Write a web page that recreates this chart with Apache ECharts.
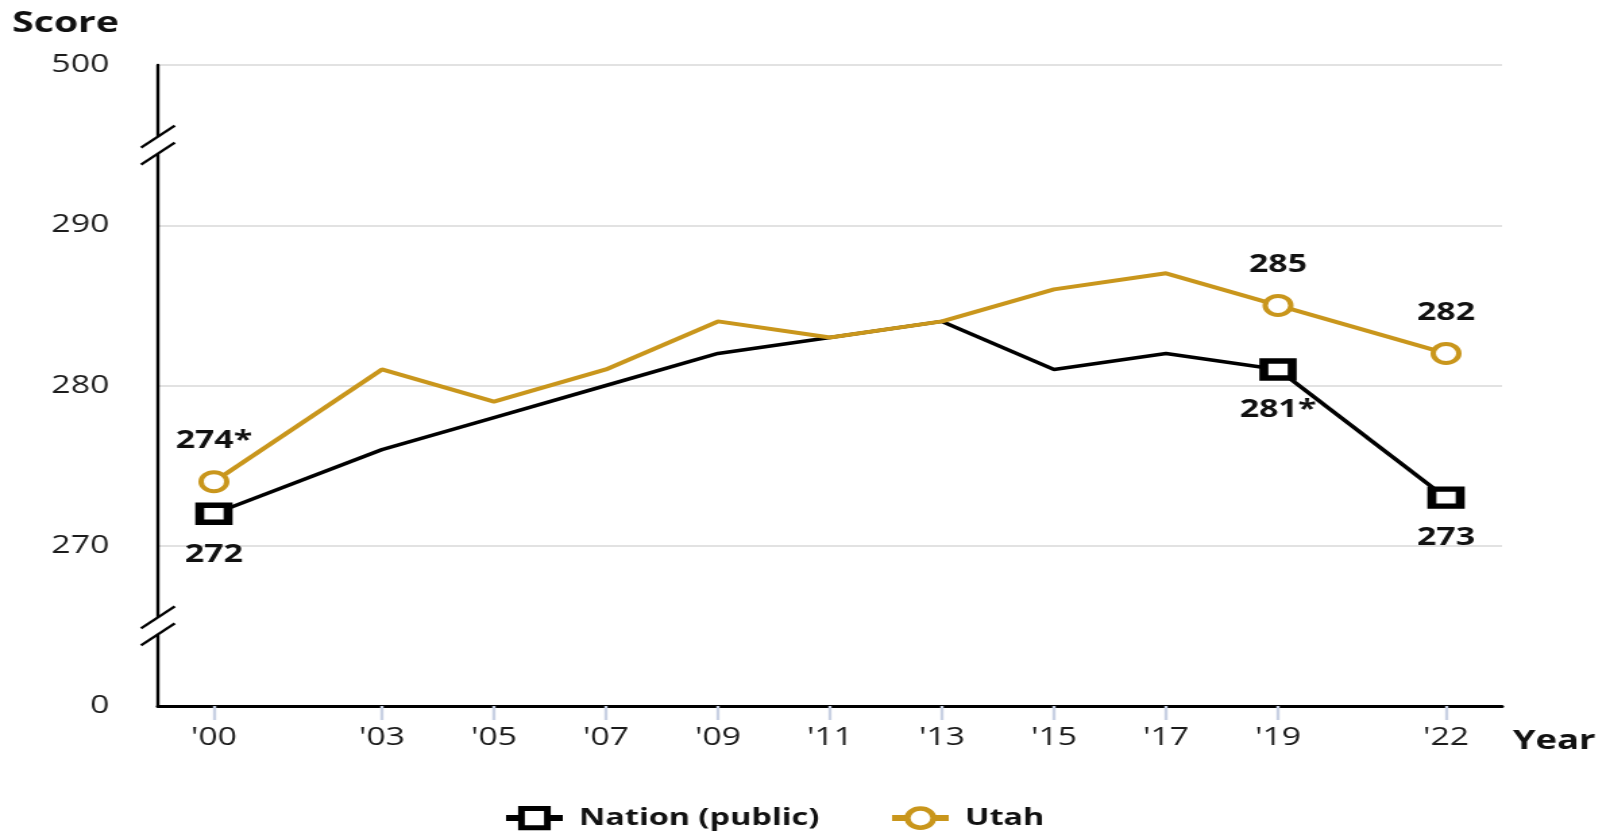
<!DOCTYPE html>
<html><head><meta charset="utf-8">
<script src="https://cdn.jsdelivr.net/npm/echarts@6/dist/echarts.min.js"></script>
<style>
html,body{margin:0;padding:0;background:#fff;overflow:hidden;}
#wrap{width:1610px;height:832px;overflow:hidden;}
#chart{width:1193px;height:832px;transform:scaleX(1.349539);transform-origin:0 0;}
</style></head><body>
<div id="wrap"><div id="chart"></div></div>
<script>
// ---- data ----
const years = [2000, 2003, 2005, 2007, 2009, 2011, 2013, 2015, 2017, 2019, 2022];
const nationScores = [272, 276, 278, 280, 282, 283, 284, 281, 282, 281, 273];
const utahScores = [274, 281, 279, 281, 284, 283, 284, 286, 287, 285, 282];
const markedYears = [2000, 2019, 2022];
const nationLabels = ['272', '281*', '273'];
const utahLabels = ['274*', '285', '282'];
// broken axis: 260 stands for 0 and 300 stands for 500
const yTickValues = [260, 270, 280, 290, 300];
const yTickLabels = ['0', '270', '280', '290', '500'];
const seriesNames = ['Nation (public)', 'Utah'];
const xAxisTitle = 'Year';
const yAxisTitle = 'Score';
const yearRange = [1999, 2023];
const breakValues = [295, 265];

const FONT = '"Open Sans", "Noto Sans", sans-serif';
const GOLD = '#C9961C';
const TEXT = '#1c1c1c';

function buildData(scores, labels, pos, dist) {
  return years.map((y, i) => {
    const k = markedYears.indexOf(y);
    if (k < 0) return { value: [y, scores[i]], symbol: 'none', label: { show: false } };
    return {
      value: [y, scores[i]],
      label: { show: true, position: pos, distance: dist, formatter: labels[k] }
    };
  });
}

const chart = echarts.init(document.getElementById('chart'));
const option = {
  animation: false,
  textStyle: { fontFamily: FONT },
  title: {
    text: yAxisTitle, left: 9, top: 9, padding: 0,
    textStyle: { fontFamily: FONT, fontSize: 29, fontWeight: 'bold', color: '#111' }
  },
  grid: { left: 117, right: 80, top: 65, bottom: 126, containLabel: false },
  legend: {
    left: 372, top: 806, padding: 0,
    itemWidth: 42, itemHeight: 24, itemGap: 51,
    lineStyle: { width: 6 },
    textStyle: { fontFamily: FONT, fontSize: 24, fontWeight: 'bold', color: '#111', padding: [0, 0, 0, 7] },
    data: [
      { name: seriesNames[0], itemStyle: { color: '#fff', borderColor: '#000', borderWidth: 5 } },
      { name: seriesNames[1], itemStyle: { color: '#fff', borderColor: GOLD, borderWidth: 4.5 } }
    ]
  },
  xAxis: {
    type: 'value', min: yearRange[0], max: yearRange[1],
    axisLine: { show: true, lineStyle: { color: '#000', width: 3 } },
    axisTick: { show: true, customValues: years, length: 14, lineStyle: { color: '#c9d1e3', width: 2.4 } },
    axisLabel: { customValues: years, margin: 19, fontFamily: FONT, fontSize: 25, color: TEXT,
      formatter: v => "'" + String(v).slice(2) },
    splitLine: { show: false }
  },
  yAxis: {
    type: 'value', min: yTickValues[0], max: yTickValues[yTickValues.length - 1], interval: 10,
    axisLine: { show: true, lineStyle: { color: '#000', width: 2.4 } },
    axisTick: { show: false },
    axisLabel: { margin: 36, fontFamily: FONT, fontSize: 25, color: TEXT,
      formatter: v => { const k = yTickValues.indexOf(v); return k < 0 ? '' : yTickLabels[k]; } },
    splitLine: { show: true, showMinLine: false, lineStyle: { color: '#e2e2e2', width: 2 } }
  },
  series: [
    {
      name: seriesNames[0], type: 'line', z: 2,
      symbol: 'rect', symbolSize: [21, 17], showSymbol: true,
      lineStyle: { color: '#000', width: 3.5 },
      itemStyle: { color: '#fff', borderColor: '#000', borderWidth: 6 },
      label: { fontFamily: FONT, fontSize: 25, fontWeight: 'bold', color: '#111' },
      emphasis: { disabled: true },
      data: buildData(nationScores, nationLabels, 'bottom', 17)
    },
    {
      name: seriesNames[1], type: 'line', z: 3,
      symbol: 'circle', symbolSize: 19, showSymbol: true,
      lineStyle: { color: GOLD, width: 4 },
      itemStyle: { color: '#fff', borderColor: GOLD, borderWidth: 4 },
      label: { fontFamily: FONT, fontSize: 25, fontWeight: 'bold', color: '#111' },
      emphasis: { disabled: true },
      data: buildData(utahScores, utahLabels, 'top', 17)
    }
  ]
};
chart.setOption(option);

// axis break marks and the x-axis title, placed through the chart's own scales
const graphics = [];
breakValues.forEach(v => {
  const p = chart.convertToPixel({ gridIndex: 0 }, [yearRange[0], v]);
  const ax = p[0], cy = p[1];
  graphics.push({ type: 'rect', shape: { x: ax - 5, y: cy - 8.5, width: 10, height: 17 }, style: { fill: '#fff' }, z: 100 });
  [-8.5, 8.5].forEach(d => {
    graphics.push({ type: 'line', shape: { x1: ax - 12.5, y1: cy + d + 11, x2: ax + 12.5, y2: cy + d - 11 },
      style: { stroke: '#000', lineWidth: 2.2 }, z: 101 });
  });
});
const endPt = chart.convertToPixel({ gridIndex: 0 }, [yearRange[1], yTickValues[0]]);
graphics.push({
  type: 'text', x: endPt[0] + 8, y: endPt[1] + 35, z: 100,
  style: { text: xAxisTitle, fontFamily: FONT, fontSize: 27, fontWeight: 'bold', fill: '#111', align: 'left', verticalAlign: 'middle' }
});
chart.setOption({ graphic: graphics });
</script>
</body></html>
